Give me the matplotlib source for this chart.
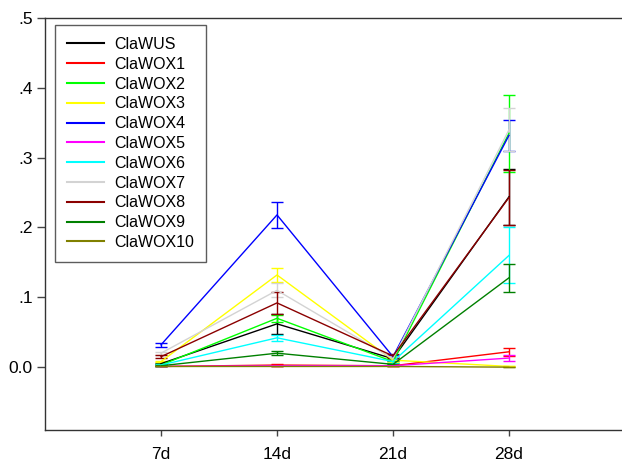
import matplotlib
matplotlib.use("Agg")
import matplotlib.pyplot as plt
from matplotlib.lines import Line2D

plt.rcParams['font.family'] = ['Liberation Sans', 'DejaVu Sans']

days = ["7d", "14d", "21d", "28d"]
genes = ["ClaWUS", "ClaWOX1", "ClaWOX2", "ClaWOX3", "ClaWOX4", "ClaWOX5",
         "ClaWOX6", "ClaWOX7", "ClaWOX8", "ClaWOX9", "ClaWOX10"]

wus    = [0.005, 0.062, 0.012, 0.244]
wox1   = [0.001, 0.003, 0.002, 0.022]
wox2   = [0.003, 0.070, 0.008, 0.335]
wox3   = [0.008, 0.132, 0.010, 0.001]
wox4   = [0.032, 0.218, 0.015, 0.332]
wox5   = [0.001, 0.002, 0.002, 0.013]
wox6   = [0.003, 0.042, 0.008, 0.160]
wox7   = [0.020, 0.110, 0.012, 0.340]
wox8   = [0.015, 0.092, 0.016, 0.243]
wox9   = [0.002, 0.020, 0.004, 0.128]
wox10  = [0.001, 0.001, 0.001, 0.000]

wus_err   = [0.001, 0.014, 0.003, 0.040]
wox1_err  = [0.000, 0.001, 0.001, 0.006]
wox2_err  = [0.001, 0.005, 0.002, 0.055]
wox3_err  = [0.001, 0.010, 0.002, 0.000]
wox4_err  = [0.003, 0.019, 0.003, 0.022]
wox5_err  = [0.000, 0.001, 0.001, 0.004]
wox6_err  = [0.001, 0.004, 0.002, 0.040]
wox7_err  = [0.002, 0.010, 0.002, 0.031]
wox8_err  = [0.002, 0.016, 0.003, 0.039]
wox9_err  = [0.001, 0.003, 0.001, 0.020]
wox10_err = [0.000, 0.000, 0.000, 0.000]

values = [wus, wox1, wox2, wox3, wox4, wox5, wox6, wox7, wox8, wox9, wox10]
errors = [wus_err, wox1_err, wox2_err, wox3_err, wox4_err, wox5_err,
          wox6_err, wox7_err, wox8_err, wox9_err, wox10_err]
colors = ["black", "#ff0000", "#00ff00", "#ffff00", "#0000ff", "#ff00ff",
          "#00ffff", "#d3d3d3", "#8b0000", "#008000", "#808000"]

fig = plt.figure(figsize=(6.22, 4.63), dpi=100)
ax = fig.add_axes([45/622, 33/463, 580/622, 412/463])

x = [1, 2, 3, 4]
handles = []
for name, v, e, c in zip(genes, values, errors, colors):
    ax.errorbar(x, v, yerr=e, color=c, lw=1.0, capsize=4.5, capthick=1.0,
                elinewidth=1.0)
    handles.append(Line2D([], [], color=c, lw=1.5, label=name))

ax.set_xlim(0, 5)
ax.set_ylim(-0.09, 0.5)
ax.set_xticks(x)
ax.set_xticklabels(days, fontsize=12.5)
ax.set_yticks([0.0, 0.1, 0.2, 0.3, 0.4, 0.5])
ax.set_yticklabels(["0.0", ".1", ".2", ".3", ".4", ".5"], fontsize=12.5)
ax.tick_params(axis='y', direction='out', length=6, width=1, color='#444444', pad=3)
ax.tick_params(axis='x', direction='out', length=4, width=1, color='#444444', pad=8)
for s in ax.spines.values():
    s.set_color('#333333')
    s.set_linewidth(1.0)

leg = ax.legend(handles=handles, loc='upper left', bbox_to_anchor=(10/580, 1 - 7/412),
                fontsize=11.5, frameon=True, fancybox=False, edgecolor='#333333',
                handlelength=2.3, handletextpad=0.65, labelspacing=0.3,
                borderpad=0.75, borderaxespad=0)
leg.get_frame().set_linewidth(1.0)

fig.savefig("out.png", dpi=100)
